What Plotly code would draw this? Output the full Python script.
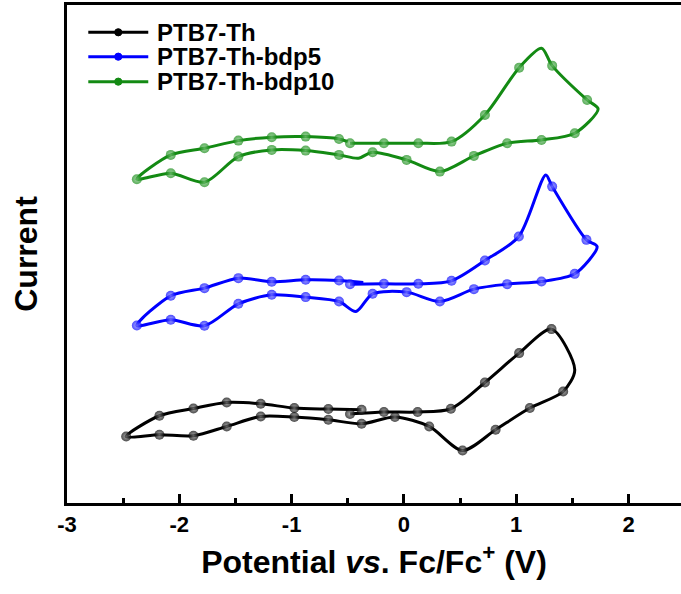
import plotly.graph_objects as go

# ---------------- data (potential in V vs Fc/Fc+, current in arbitrary units) ----------------
series_names = ["PTB7-Th", "PTB7-Th-bdp5", "PTB7-Th-bdp10"]

potential_ptb7th = [-0.480, -0.178, 0.122, 0.418, 0.721, 1.026, 1.314, 1.521, 1.418, 1.121,
                    0.816, 0.522, 0.225, -0.080, -0.377, -0.673, -0.976, -1.275, -1.578, -1.874,
                    -2.177, -2.473, -2.177, -1.874, -1.578, -1.275, -0.976, -0.673, -0.377]
current_ptb7th = [8.90, 9.10, 9.10, 9.43, 12.06, 15.00, 17.40, 13.33, 11.16, 9.50,
                  7.33, 5.26, 7.66, 8.60, 7.93, 8.33, 8.60, 8.66, 7.66, 6.73,
                  6.83, 6.66, 8.73, 9.46, 10.06, 9.93, 9.50, 9.40, 9.33]
unmarked_ptb7th = [7]

potential_bdp5 = [-0.480, -0.178, 0.128, 0.424, 0.721, 1.023, 1.263, 1.320, 1.625, 1.720,
                  1.521, 1.225, 0.919, 0.623, 0.320, 0.024, -0.279, -0.427, -0.578, -0.875,
                  -1.177, -1.474, -1.776, -2.076, -2.378, -2.076, -1.776, -1.474, -1.177, -0.875,
                  -0.578, -0.362]
current_bdp5 = [21.90, 21.93, 21.93, 22.23, 24.26, 26.66, 32.83, 31.66, 26.33, 25.66,
                22.93, 22.16, 21.90, 21.40, 20.16, 21.10, 20.93, 19.16, 20.16, 20.60,
                20.83, 19.93, 17.73, 18.33, 17.76, 20.73, 21.50, 22.50, 22.13, 22.33,
                22.26, 22.06]
unmarked_bdp5 = [6, 9, 17, 31]

potential_bdp10 = [-0.480, -0.178, 0.128, 0.424, 0.721, 1.026, 1.225, 1.320, 1.631, 1.729,
                   1.521, 1.225, 0.919, 0.623, 0.320, 0.024, -0.279, -0.406, -0.578, -0.875,
                   -1.177, -1.474, -1.776, -2.076, -2.378, -2.076, -1.776, -1.474, -1.177, -0.875,
                   -0.578, -0.500]
current_bdp10 = [36.00, 36.00, 36.00, 36.16, 38.83, 43.56, 45.50, 43.76, 40.33, 39.43,
                 37.00, 36.33, 36.00, 34.73, 33.16, 34.33, 35.10, 34.50, 34.83, 35.26,
                 35.33, 34.66, 32.10, 33.00, 32.40, 34.83, 35.50, 36.26, 36.60, 36.66,
                 36.43, 36.15]
unmarked_bdp10 = [6, 9, 17, 31]

x_tick_values = [-3, -2, -1, 0, 1, 2]
x_tick_labels = ["-3", "-2", "-1", "0", "1", "2"]

# ---------------- styling ----------------
colors = ["#000000", "#0000ff", "#138a13"]
highlights = ["#8a8a8a", "#8c8cff", "#7cc47c"]
FONT = "Liberation Sans, Arial, sans-serif"

W, H = 681, 594
ML, MR, MT, MB = 66.7, 0, 5, 90.7

fig = go.Figure()

all_series = [
    (potential_ptb7th, current_ptb7th, unmarked_ptb7th),
    (potential_bdp5, current_bdp5, unmarked_bdp5),
    (potential_bdp10, current_bdp10, unmarked_bdp10),
]

for i, (xs, ys, unmarked) in enumerate(all_series):
    sizes = [0 if k in unmarked else 10 for k in range(len(xs))]
    fig.add_trace(go.Scatter(
        x=xs, y=ys, mode="lines+markers", name=series_names[i],
        line=dict(color=colors[i], width=3, shape="spline", smoothing=0.8),
        marker=dict(size=sizes, color=colors[i], symbol="circle",
                    gradient=dict(type="radial", color=highlights[i]),
                    line=dict(width=0)),
        showlegend=False,
    ))

# ---------------- custom legend (long line samples like the original) ----------------
plot_w = W - ML - MR
plot_h = H - MT - MB
legend_rows_px = [32.3, 56.7, 81.7]
line_x0_px, line_x1_px, text_x_px = 88, 148, 155

def px_to_paper_x(px):
    return (px - ML) / plot_w

def px_to_paper_y(py):
    return (H - MB - py) / plot_h

for i, name in enumerate(series_names):
    yp = px_to_paper_y(legend_rows_px[i])
    fig.add_shape(type="line", xref="paper", yref="paper",
                  x0=px_to_paper_x(line_x0_px), x1=px_to_paper_x(line_x1_px), y0=yp, y1=yp,
                  line=dict(color=colors[i], width=3))
    xm = px_to_paper_x((line_x0_px + line_x1_px) / 2)
    fig.add_shape(type="circle", xref="paper", yref="paper",
                  xsizemode="pixel", ysizemode="pixel", xanchor=xm, yanchor=yp,
                  x0=-3.6, x1=3.6, y0=-3.6, y1=3.6,
                  fillcolor=colors[i], line=dict(color=colors[i], width=1))
    fig.add_annotation(xref="paper", yref="paper", x=px_to_paper_x(text_x_px), y=yp,
                       xanchor="left", yanchor="middle", showarrow=False,
                       text="<b>%s</b>" % name,
                       font=dict(family=FONT, size=24, color="#000000"))

fig.update_layout(
    width=W, height=H,
    margin=dict(l=ML, r=MR, t=MT, b=MB, autoexpand=False),
    paper_bgcolor="white", plot_bgcolor="white",
    showlegend=False,
    font=dict(family=FONT, color="#000000"),
)

fig.update_xaxes(
    range=[-3, 2.467], showgrid=False, zeroline=False,
    showline=True, linecolor="#000000", linewidth=2.5, mirror=True,
    ticks="inside", ticklen=9, tickwidth=2.5, tickcolor="#000000",
    tickvals=x_tick_values, ticktext=["<b>%s</b>" % t for t in x_tick_labels],
    tickfont=dict(family=FONT, size=22, color="#000000"),
    minor=dict(dtick=0.5, ticks="inside", ticklen=5, tickwidth=2.5, tickcolor="#000000"),
    title=dict(text="<b>Potential <i>vs</i>. Fc/Fc<sup>+</sup> (V)</b>",
               font=dict(family=FONT, size=32, color="#000000"), standoff=15),
)
fig.update_yaxes(
    range=[0, 49.83], showgrid=False, zeroline=False,
    showline=True, linecolor="#000000", linewidth=2.5, mirror=False,
    ticks="", showticklabels=False,
    title=dict(text="<b>Current</b>", font=dict(family=FONT, size=32, color="#000000"),
               standoff=18),
)

fig.write_html("out.html", config={"displayModeBar": False},
               post_script="document.body.style.margin='0';")
